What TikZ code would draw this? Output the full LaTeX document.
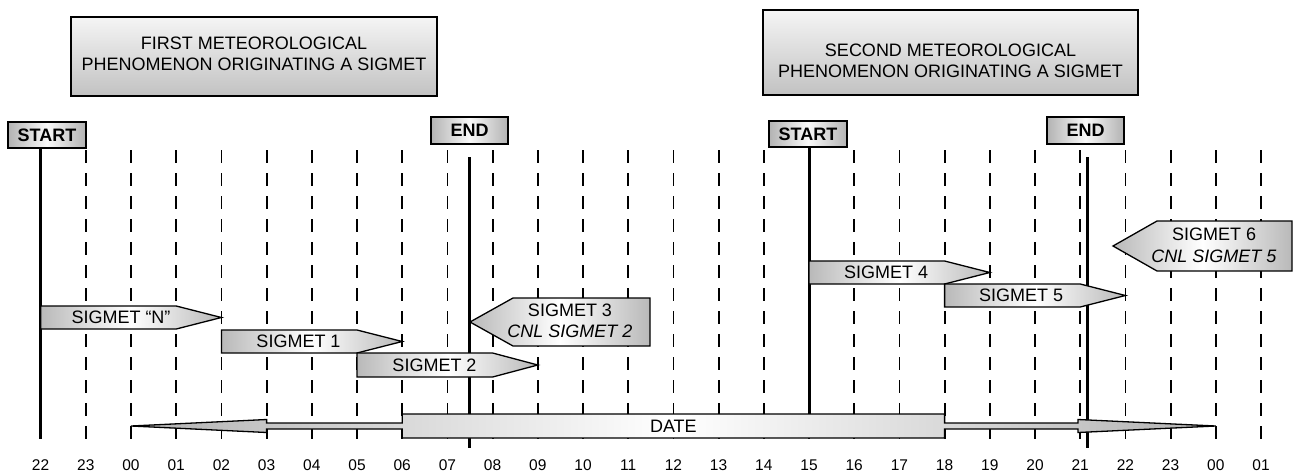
\documentclass[tikz,border=0pt]{standalone}
\usepackage{fontspec}
\setmainfont{Liberation Sans}
\tikzset{
  txt/.style={font=\fontsize{18}{21.5}\selectfont, inner sep=0pt, align=center},
  lbl/.style={font=\fontsize{15.5}{18}\selectfont, inner sep=0pt},
  titlebox/.style={draw=black, line width=2pt, top color=gray!8, bottom color=gray!48},
  tagbox/.style={draw=black, line width=1.5pt, left color=gray!60, right color=gray!60, middle color=gray!5,
                 font=\bfseries\fontsize{18}{20}\selectfont, inner sep=0pt},
  sig/.style={draw=black, line width=1.3pt, left color=gray!55, right color=gray!55, middle color=white},
  datebar/.style={draw=black, line width=1.3pt, left color=gray!60, right color=gray!60, middle color=white},
  hourline/.style={line width=1.8pt, dash pattern=on 13pt off 10pt},
  phase/.style={line width=3pt},
}
\begin{document}
\begin{tikzpicture}[x=1pt,y=-1pt]
\useasboundingbox (0,0) rectangle (1300,474);

% hour grid
\foreach \i in {1,...,27}{
  \coordinate (dt\i) at ({40.6+45.2*\i},150);
  \coordinate (db\i) at ({40.6+45.2*\i},439);
  \draw[hourline] (dt\i) -- (db\i);
}

% title boxes
\node[titlebox, minimum width=366pt, minimum height=79pt] (box1) at (254,56.5) {};
\node[txt] (box1t) at (254,53.8) {FIRST METEOROLOGICAL\\PHENOMENON ORIGINATING A SIGMET};
\node[titlebox, minimum width=375pt, minimum height=85pt] (box2) at (950.5,52.5) {};
\node[txt] (box2t) at (950.5,61) {SECOND METEOROLOGICAL\\PHENOMENON ORIGINATING A SIGMET};

% start / end tags
\node[tagbox, minimum width=78pt, minimum height=26pt] (s1) at (47,135) {START};
\node[tagbox, minimum width=78pt, minimum height=26pt] (s2) at (808,134) {START};
\node[tagbox, minimum width=77pt, minimum height=27pt] (e1) at (469.5,130.5) {END};
\node[tagbox, minimum width=77pt, minimum height=27pt] (e2) at (1085.5,130.5) {END};

\coordinate (s1b) at (40.6,439);
\coordinate (s2b) at (809,425);
\coordinate (e1t) at (469.5,157);
\coordinate (e1b) at (469.5,448);
\coordinate (e2t) at (1087,157);
\coordinate (e2b) at (1087,448);
\draw[phase] (s1.south -| s1b) -- (s1b);
\draw[phase] (s2.south -| s2b) -- (s2b);
\draw[phase] (e1t) -- (e1b);
\draw[phase] (e2t) -- (e2b);

% SIGMET arrows
\shadedraw[sig] (40.6,306) -- (176.2,306) -- (221.4,317.5) -- (176.2,329) -- (40.6,329) -- cycle;
\shadedraw[sig] (221.4,330) -- (357,330) -- (402.2,341.5) -- (357,353) -- (221.4,353) -- cycle;
\shadedraw[sig] (357,353) -- (492.6,353) -- (537.8,365) -- (492.6,377) -- (357,377) -- cycle;
\shadedraw[sig] (470,322) -- (513,298) -- (650,298) -- (650,346) -- (513,346) -- cycle;
\shadedraw[sig] (809,261) -- (944.6,261) -- (989.8,272.5) -- (944.6,284) -- (809,284) -- cycle;
\shadedraw[sig] (944.6,284) -- (1080.2,284) -- (1125.4,295.5) -- (1080.2,307) -- (944.6,307) -- cycle;
\shadedraw[sig] (1113,246) -- (1157,221) -- (1292,221) -- (1292,271) -- (1157,271) -- cycle;

\node[txt] (sn) at (121,317.5) {SIGMET “N”};
\node[txt] (sg1) at (298.5,341.5) {SIGMET 1};
\node[txt] (sg2) at (434.5,365) {SIGMET 2};
\node[txt] (sg3) at (570,321) {SIGMET 3\\\textit{CNL SIGMET 2}};
\node[txt] (sg4) at (886,272.5) {SIGMET 4};
\node[txt] (sg5) at (1021,295.5) {SIGMET 5};
\node[txt] (sg6) at (1214,245.5) {SIGMET 6\\\textit{CNL SIGMET 5}};

% DATE arrow
\shadedraw[datebar] (131,426) -- (266.6,419.5) -- (266.6,423) -- (402.2,423) -- (402.2,414)
  -- (944.6,414) -- (944.6,423) -- (1078,423) -- (1078,419.5) -- (1215.8,426)
  -- (1078,432.5) -- (1078,429) -- (944.6,429) -- (944.6,438) -- (402.2,438)
  -- (402.2,429) -- (266.6,429) -- (266.6,432.5) -- cycle;
\node[txt] (date) at (673.4,426) {DATE};

% hour labels
\foreach \i in {0,...,27}{
  \pgfmathtruncatemacro\hh{mod(22+\i,24)}
  \node[lbl] (lab\i) at ({40.6+45.2*\i},465) {\ifnum\hh<10 0\fi\hh};
}
\end{tikzpicture}
\end{document}
